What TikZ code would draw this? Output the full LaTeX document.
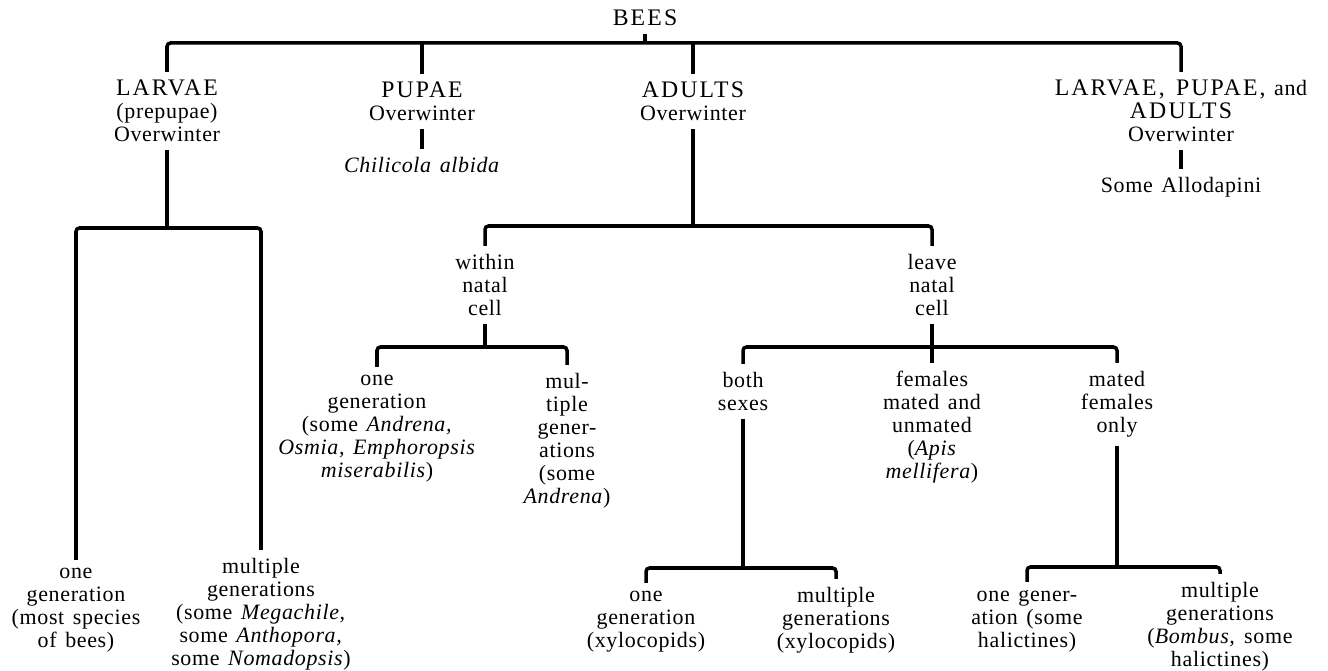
\documentclass[tikz,border=0pt]{standalone}
\usepackage{fontspec}
\setmainfont{Liberation Serif}[LetterSpace=3,WordSpace=1.4]
\usepackage{tikz}
\usetikzlibrary{positioning}
\newcommand\cp[1]{{\fontsize{13.5}{13.1}\selectfont\addfontfeature{LetterSpace=9}#1}}

\begin{document}
\begin{tikzpicture}[x=0.02cm, y=-0.02cm,
  font=\fontsize{12.5}{13.1}\selectfont,
  txt/.style={anchor=north, align=center, inner sep=4.5pt},
  br/.style={line width=2pt, rounded corners=2pt}
]
\useasboundingbox (0,0) rectangle (1328,671);
\node[txt, anchor=center] (bees) at (645,18) {\cp{BEES}};
\coordinate (jTop) at (645,43);
\node[txt] (larvae) at (167,72) {\cp{LARVAE}\\(prepupae)\\Overwinter};
\node[txt] (pupae) at (422,74) {\cp{PUPAE}\\Overwinter};
\node[txt, below=0.4cm of pupae] (chil) {\textit{Chilicola albida}};
\node[txt] (adults) at (693,74) {\cp{ADULTS}\\Overwinter};
\node[txt] (lapa) at (1181,72) {\cp{LARVAE, PUPAE,} and\\\cp{ADULTS}\\Overwinter};
\node[txt, below=0.38cm of lapa] (allo) {Some Allodapini};
\draw[br] (bees) -- (jTop);
\draw[br] (larvae.north) |- (jTop) -| (lapa.north);
\draw[br] (pupae) -- (pupae |- jTop);
\draw[br] (adults) -- (adults |- jTop);
\draw[br] (pupae) -- (chil);
\draw[br] (lapa) -- (allo);

\coordinate (jL) at (167,228);
\node[txt] (one1) at (76,560) {one\\generation\\(most species\\of bees)};
\node[txt] (mult1) at (261,550) {multiple\\generations\\(some \textit{Megachile,}\\some \textit{Anthopora,}\\some \textit{Nomadopsis})};
\draw[br] (larvae) -- (jL);
\draw[br] (one1.north) |- (jL) -| (mult1.north);

\coordinate (jA) at (693,226);
\node[txt] (within) at (485,246) {within\\natal\\cell};
\node[txt] (leave) at (932,246) {leave\\natal\\cell};
\draw[br] (adults) -- (jA);
\draw[br] (within.north) |- (jA) -| (leave.north);

\coordinate (jW) at (485,347);
\node[txt] (owa) at (377,367) {one\\generation\\(some \textit{Andrena,}\\\textit{Osmia, Emphoropsis}\\\textit{miserabilis})};
\node[txt] (mta) at (567,365) {mul-\\tiple\\gener-\\ations\\(some\\\textit{Andrena})};
\draw[br] (within) -- (jW);
\draw[br] (owa.north) |- (jW) -| (mta.north);

\coordinate (jV) at (932,347);
\node[txt] (both) at (743,364) {both\\sexes};
\node[txt] (fem) at (932,363) {females\\mated and\\unmated\\(\textit{Apis}\\\textit{mellifera})};
\node[txt] (mated) at (1117,363) {mated\\females\\only};
\draw[br] (leave) -- (fem);
\draw[br] (both.north) |- (jV) -| (mated.north);

\coordinate (jB) at (743,568);
\node[txt] (ogx) at (646,583) {one\\generation\\(xylocopids)};
\node[txt] (mgx) at (836,579) {multiple\\generations\\(xylocopids)};
\draw[br] (both) -- (jB);
\draw[br] (ogx.north) |- (jB) -| (mgx.north);

\coordinate (jM) at (1117,567);
\node[txt] (ogh) at (1027,582) {one gener-\\ation (some\\halictines)};
\node[txt] (mgh) at (1220,574) {multiple\\generations\\(\textit{Bombus,} some\\halictines)};
\draw[br] (mated) -- (jM);
\draw[br] (ogh.north) |- (jM) -| (mgh.north);
\end{tikzpicture}
\end{document}
